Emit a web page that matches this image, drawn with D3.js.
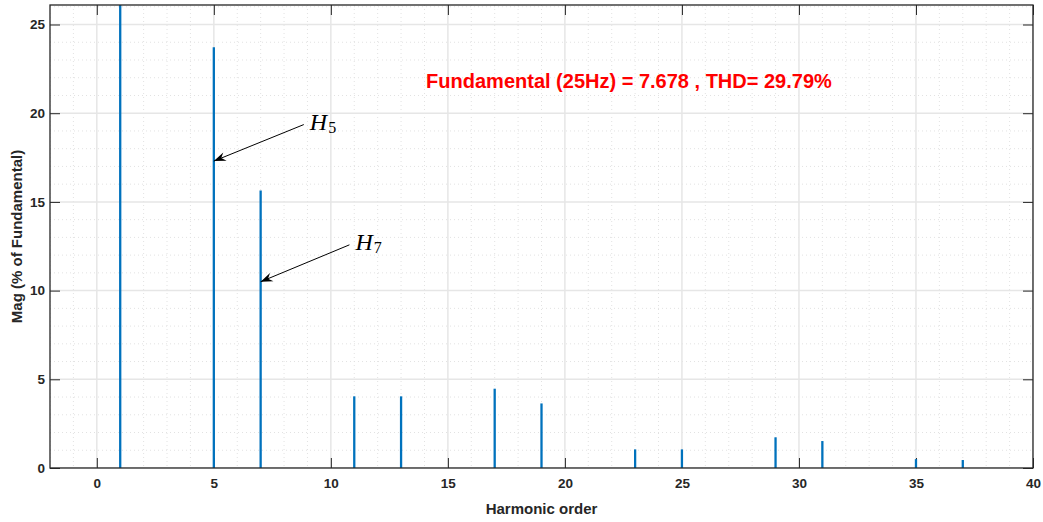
<!DOCTYPE html>
<html>
<head>
<meta charset="utf-8">
<script src="https://cdn.jsdelivr.net/npm/d3@7/dist/d3.min.js"></script>
<style>
  html, body { margin: 0; padding: 0; background: #fff; }
  svg { display: block; }
  text { font-family: "Liberation Sans", Arial, Helvetica, sans-serif; }
</style>
</head>
<body>
<svg id="chart" width="1043" height="522"></svg>
<script>
// ---- data ----
const harmonics = [1, 5, 7, 11, 13, 17, 19, 23, 25, 29, 31, 35, 37];
const magnitudes = [100, 23.72, 15.64, 4.04, 4.04, 4.47, 3.64, 1.05, 1.05, 1.73, 1.52, 0.5, 0.45];
const xTicks = [0, 5, 10, 15, 20, 25, 30, 35, 40];
const yTicks = [0, 5, 10, 15, 20, 25];
const titleText = "Fundamental (25Hz) = 7.678 , THD= 29.79%";
const xLabel = "Harmonic order";
const yLabel = "Mag (% of Fundamental)";
const annotations = [
  { name: "H", sub: "5", harmonic: 5, value: 17.3, tx: 9.1, ty: 19.05 },
  { name: "H", sub: "7", harmonic: 7, value: 10.5, tx: 11.05, ty: 12.27 }
];

// ---- layout ----
const svg = d3.select("#chart");
const L = 50, R = 1033, T = 5, B = 468;
const x = d3.scaleLinear().domain([-2, 40]).range([L, R]);
const y = d3.scaleLinear().domain([0, 26.1]).range([B, T]);
const ink = "#262626";

svg.append("defs").append("clipPath").attr("id", "clip")
  .append("rect").attr("x", L).attr("y", T).attr("width", R - L).attr("height", B - T);

// minor grid
const g = svg.append("g").attr("clip-path", "url(#clip)");
const minorX = d3.range(-2, 41, 1).filter(v => v % 5 !== 0);
const minorY = d3.range(0, 27, 1).filter(v => v % 5 !== 0);
g.selectAll(".mx").data(minorX).join("line")
  .attr("x1", d => x(d)).attr("x2", d => x(d)).attr("y1", T).attr("y2", B)
  .attr("stroke", "#e2e2e2").attr("stroke-width", 1).attr("stroke-dasharray", "1,3");
g.selectAll(".my").data(minorY).join("line")
  .attr("y1", d => y(d)).attr("y2", d => y(d)).attr("x1", L).attr("x2", R)
  .attr("stroke", "#e2e2e2").attr("stroke-width", 1).attr("stroke-dasharray", "1,3");
// major grid
g.selectAll(".Mx").data(xTicks).join("line")
  .attr("x1", d => x(d)).attr("x2", d => x(d)).attr("y1", T).attr("y2", B)
  .attr("stroke", "#e6e6e6").attr("stroke-width", 1.5);
g.selectAll(".My").data(yTicks).join("line")
  .attr("y1", d => y(d)).attr("y2", d => y(d)).attr("x1", L).attr("x2", R)
  .attr("stroke", "#e6e6e6").attr("stroke-width", 1.5);

// axes (ticks inside, box)
const xAxisB = d3.axisBottom(x).tickValues(xTicks).tickSize(-10).tickPadding(10).tickFormat(d3.format("d"));
const xAxisT = d3.axisTop(x).tickValues(xTicks).tickSize(-10).tickFormat("");
const yAxisL = d3.axisLeft(y).tickValues(yTicks).tickSize(-10).tickPadding(5).tickFormat(d3.format("d"));
const yAxisR = d3.axisRight(y).tickValues(yTicks).tickSize(-10).tickFormat("");

function styleAxis(sel) {
  sel.select(".domain").remove();
  sel.selectAll("line").attr("stroke", ink).attr("stroke-width", 1);
  sel.selectAll("text").attr("fill", ink).style("font-size", "13.5px").style("font-weight", "bold")
    .style("font-family", "'Liberation Sans', Arial, sans-serif");
}
svg.append("g").attr("transform", `translate(0,${B})`).call(xAxisB).call(styleAxis);
svg.append("g").attr("transform", `translate(0,${T})`).call(xAxisT).call(styleAxis);
svg.append("g").attr("transform", `translate(${L},0)`).call(yAxisL).call(styleAxis);
svg.append("g").attr("transform", `translate(${R},0)`).call(yAxisR).call(styleAxis);

// stems (drawn above the tick marks)
svg.append("g").attr("clip-path", "url(#clip)")
  .selectAll(".stem").data(harmonics).join("line")
  .attr("x1", d => x(d)).attr("x2", d => x(d))
  .attr("y1", y(0)).attr("y2", (d, i) => y(magnitudes[i]))
  .attr("stroke", "#0072BD").attr("stroke-width", 2.3);

svg.append("rect").attr("x", L).attr("y", T).attr("width", R - L).attr("height", B - T)
  .attr("fill", "none").attr("stroke", ink).attr("stroke-width", 1.3);

// axis labels
svg.append("text").attr("x", (L + R) / 2).attr("y", 514).attr("text-anchor", "middle")
  .attr("fill", ink).style("font-size", "15px").style("font-weight", "bold").text(xLabel);
svg.append("text").attr("transform", `translate(22,${(T + B) / 2}) rotate(-90)`).attr("text-anchor", "middle")
  .attr("fill", ink).style("font-size", "15px").style("font-weight", "bold").text(yLabel);

// title text
svg.append("text").attr("x", x(14.07)).attr("y", 88)
  .attr("fill", "#ff0000").style("font-size", "20px").style("font-weight", "bold").text(titleText);

// annotations with arrows
const ann = svg.append("g");
annotations.forEach(a => {
  const tx = x(a.tx), base = y(a.ty);
  const x0 = tx - 6, y0 = base - 5.5;
  const x1 = x(a.harmonic), y1 = y(a.value);
  ann.append("line").attr("x1", x0).attr("y1", y0).attr("x2", x1).attr("y2", y1)
    .attr("stroke", "#000").attr("stroke-width", 1);
  const ang = Math.atan2(y1 - y0, x1 - x0);
  const len = 12, wid = 4.5, back = 8;
  const ux = Math.cos(ang), uy = Math.sin(ang);
  const px = -uy, py = ux;
  const p = [
    [x1, y1],
    [x1 - ux * len + px * wid, y1 - uy * len + py * wid],
    [x1 - ux * back, y1 - uy * back],
    [x1 - ux * len - px * wid, y1 - uy * len - py * wid]
  ];
  ann.append("path").attr("d", "M" + p.map(q => q.join(",")).join("L") + "Z").attr("fill", "#000");
  const t = ann.append("text").attr("x", tx).attr("y", base)
    .style("font-family", "'Liberation Serif', 'DejaVu Serif', serif");
  t.append("tspan").style("font-style", "italic").style("font-size", "24px").text(a.name);
  t.append("tspan").attr("dx", 1).attr("dy", 3).style("font-size", "16px").text(a.sub);
});
</script>
</body>
</html>
